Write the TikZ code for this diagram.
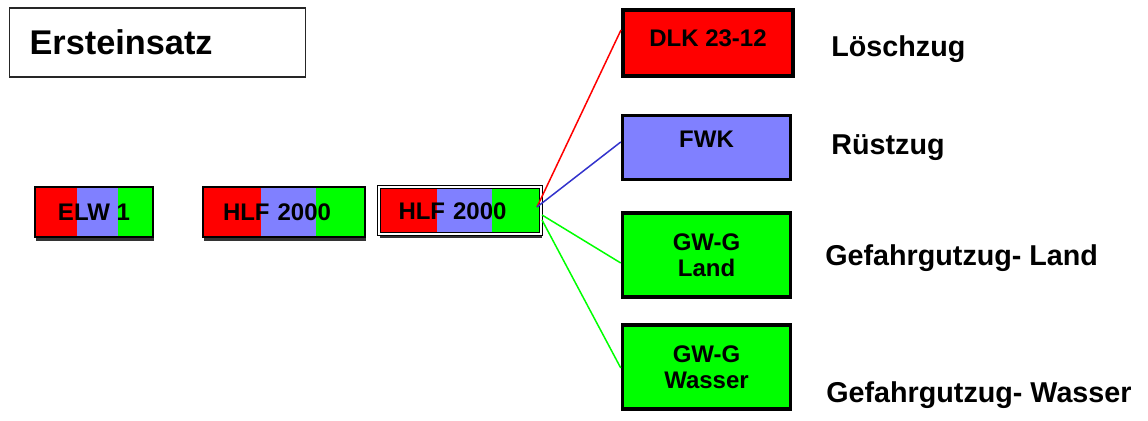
\documentclass[tikz,border=0pt]{standalone}
\usepackage{fontspec}
\setmainfont{Liberation Sans}
\usetikzlibrary{calc,shadows}

\definecolor{rot}{RGB}{255,0,0}
\definecolor{blau}{RGB}{128,128,255}
\definecolor{gruen}{RGB}{0,255,0}
\definecolor{linieblau}{RGB}{51,51,204}

\tikzset{
  fzg/.style={rectangle, draw=black, font=\fontsize{12}{13}\selectfont\bfseries, align=center, inner sep=0pt},
  dreifarbig/.style={fzg, drop shadow={shadow xshift=0.6pt, shadow yshift=-2pt, fill=black!80, opacity=1},
    path picture={
      \fill[rot] (path picture bounding box.south west) rectangle ($(path picture bounding box.north west)!0.36!(path picture bounding box.north east)$);
      \fill[blau] ($(path picture bounding box.south west)!0.36!(path picture bounding box.south east)$) rectangle ($(path picture bounding box.north west)!0.70!(path picture bounding box.north east)$);
      \fill[gruen] ($(path picture bounding box.south west)!0.70!(path picture bounding box.south east)$) rectangle (path picture bounding box.north east);
    }},
  gruppe/.style={fzg, line width=1.75pt, minimum width=84pt},
  zug/.style={anchor=base west, inner sep=0pt, font=\fontsize{14.35}{16}\selectfont\bfseries}
}

\begin{document}
\begin{tikzpicture}[x=0.5pt, y=-0.5pt]
  \useasboundingbox (0,0) rectangle (1148,421);

  \node[draw=black!85, line width=0.6pt, anchor=west, inner xsep=10pt, text width=128pt, minimum height=34.5pt, align=left, font=\fontsize{17.15}{19}\selectfont\bfseries] (titel) at (9,42.5) {Ersteinsatz};

  \node[dreifarbig, line width=0.75pt, minimum width=59pt, minimum height=25pt] (elw) at (94,212) {ELW 1};
  \node[dreifarbig, line width=1.1pt, minimum width=81pt, minimum height=25pt, text width=75pt, align=left, inner xsep=3pt] (hlfa) at (284,212) {\hspace{7pt}HLF 2000};
  \node[dreifarbig, line width=0.5pt, double=white, double distance=1pt, minimum width=80.5pt, minimum height=23.5pt, text width=75pt, align=left, inner xsep=3pt] (hlfb) at (459.5,211) {\hspace{7pt}HLF 2000};

  \node[gruppe, fill=rot, line width=2pt, minimum width=85pt, minimum height=33pt, text height=8.6pt, text depth=6pt] (dlk) at (708,43.5) {DLK 23-12};
  \node[gruppe, fill=blau, minimum height=32pt, text height=8.6pt, text depth=8.5pt] (fwk) at (706.5,147.5) {FWK};
  \node[gruppe, fill=gruen, minimum height=42pt] (gwland) at (706.5,255) {GW-G\\Land};
  \node[gruppe, fill=gruen, minimum height=42pt] (gwwasser) at (706.5,367) {GW-G\\Wasser};

  \node[zug] (loeschzug) at (831,56.5) {Löschzug};
  \node[zug] (ruestzug) at (831,155) {Rüstzug};
  \node[zug] (gzland) at (825,266) {Gefahrgutzug- Land};
  \node[zug] (gzwasser) at (826,403) {Gefahrgutzug- Wasser};

  \draw[rot, line width=0.75pt] ($(hlfb.east)+(-4,-4)$) -- ($(dlk.west)+(0,-13.5)$);
  \draw[linieblau, line width=0.75pt] ($(hlfb.east)+(-4,-4)$) -- ($(fwk.west)+(0,-5.5)$);
  \draw[gruen, line width=0.75pt] ($(hlfb.east)+(1,4)$) -- ($(gwland.west)+(0,8)$);
  \draw[gruen, line width=0.75pt] ($(hlfb.east)+(1,9)$) -- ($(gwwasser.west)+(0,1)$);
\end{tikzpicture}
\end{document}
